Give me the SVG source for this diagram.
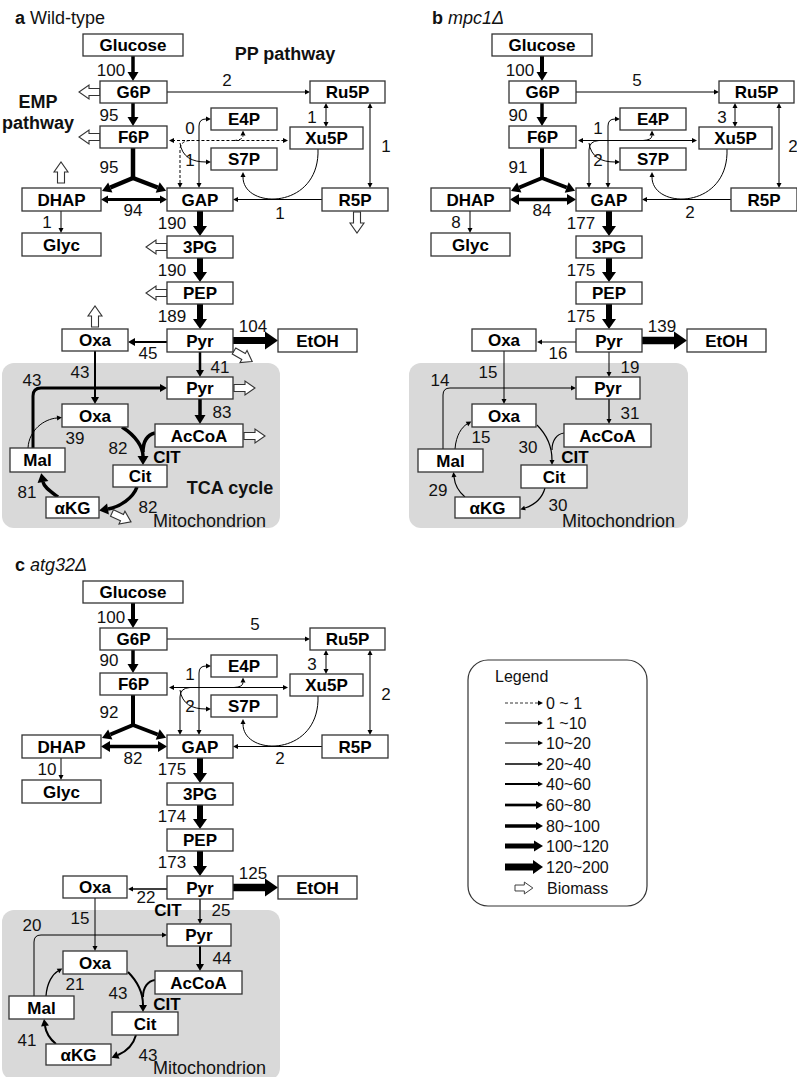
<svg xmlns="http://www.w3.org/2000/svg" xmlns:xlink="http://www.w3.org/1999/xlink" width="797" height="1077" viewBox="0 0 797 1077">
<style>
.box{fill:#fff;stroke:#333;stroke-width:1.3}
.n{font-family:"Liberation Sans",Arial,sans-serif;font-weight:bold;font-size:17px;text-anchor:middle;fill:#000}
.v{font-family:"Liberation Sans",Arial,sans-serif;font-size:17px;text-anchor:middle;fill:#111}
.t{font-family:"Liberation Sans",Arial,sans-serif;font-size:18px;fill:#111}
.b{font-weight:bold}
.c{fill:none;stroke:#000}
.d{stroke-dasharray:3 2}
.mito{fill:#d9d9d9;stroke:none}
.ha{marker-end:url(#hA)}.hb{marker-end:url(#hB)}.hc{marker-end:url(#hC)}.hd{marker-end:url(#hD)}.he{marker-end:url(#hE)}
.sa{marker-start:url(#hA)}.sb{marker-start:url(#hB)}.sc{marker-start:url(#hC)}
.lg{font-family:"Liberation Sans",Arial,sans-serif;font-size:16px;fill:#111}
</style>
<defs>
<marker id="hA" markerUnits="userSpaceOnUse" markerWidth="5" markerHeight="5" refX="0" refY="2.5" orient="auto-start-reverse" overflow="visible"><path d="M0,0 L5,2.5 L0,5 z" fill="#000"/></marker>
<marker id="hB" markerUnits="userSpaceOnUse" markerWidth="7" markerHeight="8" refX="0" refY="4" orient="auto-start-reverse" overflow="visible"><path d="M0,0 L7,4 L0,8 z" fill="#000"/></marker>
<marker id="hC" markerUnits="userSpaceOnUse" markerWidth="9" markerHeight="11" refX="0" refY="5.5" orient="auto-start-reverse" overflow="visible"><path d="M0,0 L9,5.5 L0,11 z" fill="#000"/></marker>
<marker id="hD" markerUnits="userSpaceOnUse" markerWidth="10" markerHeight="14" refX="0" refY="7" orient="auto-start-reverse" overflow="visible"><path d="M0,0 L10,7 L0,14 z" fill="#000"/></marker>
<marker id="hE" markerUnits="userSpaceOnUse" markerWidth="13" markerHeight="18" refX="0" refY="9" orient="auto-start-reverse" overflow="visible"><path d="M0,0 L13,9 L0,18 z" fill="#000"/></marker>
<path id="ba" d="M0,-3.5 H11 V-7 L21,0 L11,7 V3.5 H0 Z" fill="#fff" stroke="#333" stroke-width="1.1"/>
</defs>
<rect width="797" height="1077" fill="#fff"/>

<!-- ================= PANEL A ================= -->
<g id="panel-a">
<text class="t" x="15" y="24"><tspan class="b">a</tspan> Wild-type</text>
<text class="t b" x="38" y="108" text-anchor="middle">EMP</text>
<text class="t b" x="38" y="129" text-anchor="middle">pathway</text>
<text class="t b" x="285" y="60" text-anchor="middle">PP pathway</text>
<rect class="mito" x="2" y="363" width="278" height="165" rx="12"/>
<text class="t b" x="230" y="494" text-anchor="middle">TCA cycle</text>
<text class="t" x="153" y="527">Mitochondrion</text>
<g id="a-connectors">
<path class="c hc" stroke-width="3.5" d="M133,56 V72"/>
<path class="c hc" stroke-width="3.5" d="M133,103 V117"/>
<path class="c" stroke-width="4.5" d="M133,148 V178"/>
<path class="c hc" stroke-width="4.5" d="M133,178 L110.3,187.5"/>
<path class="c hc" stroke-width="4.5" d="M133,178 L157.7,187.5"/>
<path class="c hb sb" stroke-width="3" d="M108,199.5 H160"/>
<path class="c ha" stroke-width="1" d="M61,211 V228"/>
<path class="c hd" stroke-width="6" d="M200,211 V226"/>
<path class="c hd" stroke-width="6" d="M200,258 V272"/>
<path class="c hd" stroke-width="6" d="M200,304 V319"/>
<path class="c he" stroke-width="7" d="M233,340.5 H265"/>
<path class="c hb" stroke-width="2" d="M167,342 H135"/>
<path class="c hb" stroke-width="2" d="M95,351 V397"/>
<path class="c hb" stroke-width="2.5" d="M200,352 V370"/>
<path class="c hc" stroke-width="3.5" d="M200,399 V415"/>
<path class="c hb" stroke-width="3" d="M33,448 V396 Q33,388 41,388 H160"/>
<path class="c ha" stroke-width="1" d="M28,448 C29,430 44,419 57,418"/>
<path class="c hc" stroke-width="3.5" d="M122,427 C136,436 143,447 143,456"/>
<path class="c" stroke-width="3.5" d="M155,433 C147,435 143,442 143,452"/>
<path class="c hc" stroke-width="3.5" d="M137,487 C133,498 120,507 108,509"/>
<path class="c hc" stroke-width="3.5" d="M58,497 C50,491 44,487 43,482"/>
<path class="c ha" stroke-width="1" d="M167,92 H305"/>
<path class="c ha sa" stroke-width="1" d="M326,108 V122"/>
<path class="c ha sa" stroke-width="1" d="M370,108 V183"/>
<path class="c ha" stroke-width="1" d="M322,199.5 H238"/>
<path class="c ha" stroke-width="1" d="M318,149 C320,210 243,210 243,177"/>
<path class="c d ha sa" stroke-width="1" d="M180,183 V150 Q180,141 190,140.5 H283"/>
<path class="c d ha" stroke-width="1" d="M190,140.5 H174"/>
<path class="c d ha" stroke-width="1" d="M234,140.5 Q243,140 243,135.5"/>
<path class="c ha sa" stroke-width="1" d="M199,183 V126 Q199,119 206,119"/>
<path class="c ha" stroke-width="1" d="M180,143 C182,157 192,162 206,162"/>
<use href="#ba" transform="translate(100,92) rotate(180)"/>
<use href="#ba" transform="translate(100,137) rotate(180)"/>
<use href="#ba" transform="translate(61,183) rotate(-90)"/>
<use href="#ba" transform="translate(167,247) rotate(180)"/>
<use href="#ba" transform="translate(167,293) rotate(180)"/>
<use href="#ba" transform="translate(357,212) rotate(90)"/>
<use href="#ba" transform="translate(95,327) rotate(-90)"/>
<use href="#ba" transform="translate(234,351) rotate(30)"/>
<use href="#ba" transform="translate(234,388)"/>
<use href="#ba" transform="translate(244,436)"/>
<use href="#ba" transform="translate(112,513) rotate(25)"/>
</g>
<g id="a-labels">
<text class="v" x="111" y="76">100</text>
<text class="v" x="109" y="121">95</text>
<text class="v" x="109" y="173">95</text>
<text class="v" x="133" y="216">94</text>
<text class="v" x="47" y="228">1</text>
<text class="v" x="172" y="229">190</text>
<text class="v" x="172" y="276">190</text>
<text class="v" x="172" y="322">189</text>
<text class="v" x="253" y="332">104</text>
<text class="v" x="148" y="359">45</text>
<text class="v" x="80" y="378">43</text>
<text class="v" x="220" y="373">41</text>
<text class="v" x="222" y="418">83</text>
<text class="v" x="32" y="386">43</text>
<text class="v" x="75" y="444">39</text>
<text class="v" x="118" y="454">82</text>
<text class="v" x="148" y="513">82</text>
<text class="v" x="27" y="498">81</text>
<text class="v" x="227" y="86">2</text>
<text class="v" x="312" y="123">1</text>
<text class="v" x="386" y="152">1</text>
<text class="v" x="280" y="219">1</text>
<text class="v" x="190" y="134">0</text>
<text class="v" x="190" y="166">1</text>
<text class="n" x="167" y="463">CIT</text>
</g>
<g id="a-glucose"><rect class="box" x="83" y="34" width="100" height="22"/><text class="n" x="133" y="51">Glucose</text></g>
<g id="a-g6p"><rect class="box" x="100" y="81" width="67" height="22"/><text class="n" x="133.5" y="98">G6P</text></g>
<g id="a-f6p"><rect class="box" x="100" y="126" width="67" height="22"/><text class="n" x="133.5" y="143">F6P</text></g>
<g id="a-dhap"><rect class="box" x="22" y="188" width="79" height="23"/><text class="n" x="61.5" y="205.5">DHAP</text></g>
<g id="a-gap"><rect class="box" x="167" y="188" width="66" height="23"/><text class="n" x="200" y="205.5">GAP</text></g>
<g id="a-glyc"><rect class="box" x="22" y="233" width="79" height="23"/><text class="n" x="61.5" y="250.5">Glyc</text></g>
<g id="a-3pg"><rect class="box" x="167" y="236" width="66" height="22"/><text class="n" x="200" y="253">3PG</text></g>
<g id="a-pep"><rect class="box" x="167" y="282" width="66" height="22"/><text class="n" x="200" y="299">PEP</text></g>
<g id="a-pyr"><rect class="box" x="167" y="329" width="66" height="23"/><text class="n" x="200" y="346.5">Pyr</text></g>
<g id="a-etoh"><rect class="box" x="278" y="329" width="79" height="23"/><text class="n" x="317.5" y="346.5">EtOH</text></g>
<g id="a-oxa"><rect class="box" x="62" y="329" width="66" height="22"/><text class="n" x="95" y="346">Oxa</text></g>
<g id="a-ru5p"><rect class="box" x="310" y="81" width="75" height="22"/><text class="n" x="347.5" y="98">Ru5P</text></g>
<g id="a-e4p"><rect class="box" x="211" y="108" width="66" height="22"/><text class="n" x="244" y="125">E4P</text></g>
<g id="a-xu5p"><rect class="box" x="290" y="127" width="73" height="22"/><text class="n" x="326.5" y="144">Xu5P</text></g>
<g id="a-s7p"><rect class="box" x="211" y="148" width="66" height="22"/><text class="n" x="244" y="165">S7P</text></g>
<g id="a-r5p"><rect class="box" x="322" y="188" width="66" height="23"/><text class="n" x="355" y="205.5">R5P</text></g>
<g id="a-pyr-m"><rect class="box" x="167" y="377" width="66" height="22"/><text class="n" x="200" y="394">Pyr</text></g>
<g id="a-oxa-m"><rect class="box" x="62" y="404" width="66" height="23"/><text class="n" x="95" y="421.5">Oxa</text></g>
<g id="a-accoa"><rect class="box" x="155" y="424" width="88" height="23"/><text class="n" x="199" y="441.5">AcCoA</text></g>
<g id="a-mal"><rect class="box" x="10" y="448" width="55" height="24"/><text class="n" x="37.5" y="466">Mal</text></g>
<g id="a-cit"><rect class="box" x="113" y="465" width="54" height="22"/><text class="n" x="140" y="482">Cit</text></g>
<g id="a-akg"><rect class="box" x="46" y="497" width="53" height="21"/><text class="n" x="72.5" y="513.5">αKG</text></g>
</g>

<!-- ================= PANEL B ================= -->
<g id="panel-b" transform="translate(409,0)">
<text class="t" x="23" y="24"><tspan class="b">b</tspan> <tspan font-style="italic">mpc1Δ</tspan></text>
<rect class="mito" x="0" y="363" width="279" height="165" rx="12"/>
<text class="t" x="153" y="527">Mitochondrion</text>
<g id="b-connectors">
<path class="c hc" stroke-width="4" d="M133,56 V72"/>
<path class="c hc" stroke-width="3.5" d="M133,103 V117"/>
<path class="c" stroke-width="4" d="M133,148 V178"/>
<path class="c hc" stroke-width="4" d="M133,178 L110.3,187.5"/>
<path class="c hc" stroke-width="4" d="M133,178 L157.7,187.5"/>
<path class="c hc sc" stroke-width="3.5" d="M110,199.5 H158"/>
<path class="c ha" stroke-width="1" d="M61,211 V228"/>
<path class="c hd" stroke-width="6" d="M200,211 V226"/>
<path class="c hd" stroke-width="6" d="M200,258 V272"/>
<path class="c hd" stroke-width="6" d="M200,304 V319"/>
<path class="c he" stroke-width="7.5" d="M233,340.5 H265"/>
<path class="c ha" stroke-width="1" d="M167,342 H133"/>
<path class="c ha" stroke-width="1" d="M95,351 V399"/>
<path class="c ha" stroke-width="1" d="M200,352 V372"/>
<path class="c ha" stroke-width="1.3" d="M200,399 V419"/>
<path class="c ha" stroke-width="1" d="M34,449 V395 Q34,388 41,388 H162"/>
<path class="c ha" stroke-width="1" d="M46,449 C47,435 53,427 58,424"/>
<path class="c ha" stroke-width="1.2" d="M128,425 C138,435 143,447 143,460"/>
<path class="c" stroke-width="1.2" d="M155,433 C148,434 143,440 143,450"/>
<path class="c ha" stroke-width="1.2" d="M136,488 C133,499 125,505 116,508"/>
<path class="c ha" stroke-width="1.2" d="M56,497 C50,492 46,486 45,477"/>
<path class="c ha" stroke-width="1" d="M167,92 H305"/>
<path class="c ha sa" stroke-width="1" d="M326,108 V122"/>
<path class="c ha sa" stroke-width="1" d="M370,108 V183"/>
<path class="c ha" stroke-width="1" d="M322,199.5 H238"/>
<path class="c ha" stroke-width="1" d="M318,149 C320,210 243,210 243,177"/>
<path class="c ha sa" stroke-width="1" d="M180,183 V150 Q180,141 190,140.5 H283"/>
<path class="c ha" stroke-width="1" d="M190,140.5 H174"/>
<path class="c ha" stroke-width="1" d="M234,140.5 Q243,140 243,135.5"/>
<path class="c ha sa" stroke-width="1" d="M199,183 V126 Q199,119 206,119"/>
<path class="c ha" stroke-width="1" d="M180,143 C182,157 192,162 206,162"/>
</g>
<g id="b-labels">
<text class="v" x="111" y="76">100</text>
<text class="v" x="109" y="121">90</text>
<text class="v" x="109" y="173">91</text>
<text class="v" x="133" y="216">84</text>
<text class="v" x="47" y="228">8</text>
<text class="v" x="172" y="229">177</text>
<text class="v" x="172" y="276">175</text>
<text class="v" x="172" y="322">175</text>
<text class="v" x="253" y="332">139</text>
<text class="v" x="149" y="359">16</text>
<text class="v" x="79" y="378">15</text>
<text class="v" x="221" y="373">19</text>
<text class="v" x="221" y="419">31</text>
<text class="v" x="31" y="386">14</text>
<text class="v" x="72" y="443">15</text>
<text class="v" x="119" y="453">30</text>
<text class="v" x="149" y="511">30</text>
<text class="v" x="29" y="496">29</text>
<text class="v" x="228" y="86">5</text>
<text class="v" x="313" y="123">3</text>
<text class="v" x="384" y="152">2</text>
<text class="v" x="281" y="218">2</text>
<text class="v" x="189" y="134">1</text>
<text class="v" x="189" y="166">2</text>
<text class="n" x="166" y="463">CIT</text>
</g>
<g id="b-glucose"><rect class="box" x="83" y="34" width="100" height="22"/><text class="n" x="133" y="51">Glucose</text></g>
<g id="b-g6p"><rect class="box" x="100" y="81" width="67" height="22"/><text class="n" x="133.5" y="98">G6P</text></g>
<g id="b-f6p"><rect class="box" x="100" y="126" width="67" height="22"/><text class="n" x="133.5" y="143">F6P</text></g>
<g id="b-dhap"><rect class="box" x="22" y="188" width="79" height="23"/><text class="n" x="61.5" y="205.5">DHAP</text></g>
<g id="b-gap"><rect class="box" x="167" y="188" width="66" height="23"/><text class="n" x="200" y="205.5">GAP</text></g>
<g id="b-glyc"><rect class="box" x="22" y="233" width="79" height="23"/><text class="n" x="61.5" y="250.5">Glyc</text></g>
<g id="b-3pg"><rect class="box" x="167" y="236" width="66" height="22"/><text class="n" x="200" y="253">3PG</text></g>
<g id="b-pep"><rect class="box" x="167" y="282" width="66" height="22"/><text class="n" x="200" y="299">PEP</text></g>
<g id="b-pyr"><rect class="box" x="167" y="329" width="66" height="23"/><text class="n" x="200" y="346.5">Pyr</text></g>
<g id="b-etoh"><rect class="box" x="278" y="329" width="79" height="23"/><text class="n" x="317.5" y="346.5">EtOH</text></g>
<g id="b-oxa"><rect class="box" x="63" y="329" width="64" height="22"/><text class="n" x="95" y="346">Oxa</text></g>
<g id="b-ru5p"><rect class="box" x="310" y="81" width="75" height="22"/><text class="n" x="347.5" y="98">Ru5P</text></g>
<g id="b-e4p"><rect class="box" x="211" y="108" width="66" height="22"/><text class="n" x="244" y="125">E4P</text></g>
<g id="b-xu5p"><rect class="box" x="290" y="127" width="73" height="22"/><text class="n" x="326.5" y="144">Xu5P</text></g>
<g id="b-s7p"><rect class="box" x="211" y="148" width="66" height="22"/><text class="n" x="244" y="165">S7P</text></g>
<g id="b-r5p"><rect class="box" x="322" y="188" width="66" height="23"/><text class="n" x="355" y="205.5">R5P</text></g>
<g id="b-pyr-m"><rect class="box" x="167" y="377" width="64" height="22"/><text class="n" x="199" y="394">Pyr</text></g>
<g id="b-oxa-m"><rect class="box" x="63" y="404" width="64" height="23"/><text class="n" x="95" y="421.5">Oxa</text></g>
<g id="b-accoa"><rect class="box" x="155" y="424" width="87" height="23"/><text class="n" x="198.5" y="441.5">AcCoA</text></g>
<g id="b-mal"><rect class="box" x="9" y="449" width="65" height="23"/><text class="n" x="41.5" y="466.5">Mal</text></g>
<g id="b-cit"><rect class="box" x="112" y="465" width="66" height="23"/><text class="n" x="145" y="482.5">Cit</text></g>
<g id="b-akg"><rect class="box" x="46" y="497" width="65" height="21"/><text class="n" x="78.5" y="513.5">αKG</text></g>
</g>

<!-- ================= PANEL C ================= -->
<g id="panel-c" transform="translate(0,547)">
<text class="t" x="15" y="24"><tspan class="b">c</tspan> <tspan font-style="italic">atg32Δ</tspan></text>
<rect class="mito" x="2" y="363" width="278" height="170" rx="12"/>
<text class="t" x="153" y="527">Mitochondrion</text>
<g id="c-connectors">
<path class="c hc" stroke-width="4" d="M133,56 V72"/>
<path class="c hc" stroke-width="3.5" d="M133,103 V117"/>
<path class="c" stroke-width="4" d="M133,148 V178"/>
<path class="c hc" stroke-width="4" d="M133,178 L110.3,187.5"/>
<path class="c hc" stroke-width="4" d="M133,178 L157.7,187.5"/>
<path class="c hc sc" stroke-width="3.5" d="M110,199.5 H158"/>
<path class="c ha" stroke-width="1" d="M61,211 V228"/>
<path class="c hd" stroke-width="6" d="M200,211 V226"/>
<path class="c hd" stroke-width="6" d="M200,258 V272"/>
<path class="c hd" stroke-width="6" d="M200,304 V319"/>
<path class="c he" stroke-width="7.5" d="M233,340.5 H265"/>
<path class="c ha" stroke-width="1.3" d="M167,342 H133"/>
<path class="c ha" stroke-width="1" d="M95,351 V399"/>
<path class="c ha" stroke-width="1.3" d="M200,352 V372"/>
<path class="c hb" stroke-width="2" d="M200,399 V417"/>
<path class="c ha" stroke-width="1" d="M34,449 V395 Q34,388 41,388 H162"/>
<path class="c ha" stroke-width="1.3" d="M46,449 C47,435 53,427 58,424"/>
<path class="c hb" stroke-width="2" d="M128,425 C138,435 143,447 143,458"/>
<path class="c" stroke-width="2" d="M155,433 C148,434 143,440 143,450"/>
<path class="c hb" stroke-width="2" d="M136,488 C133,499 125,505 118,508"/>
<path class="c hb" stroke-width="2" d="M56,497 C50,492 46,486 45,479"/>
<path class="c ha" stroke-width="1" d="M167,92 H305"/>
<path class="c ha sa" stroke-width="1" d="M326,108 V122"/>
<path class="c ha sa" stroke-width="1" d="M370,108 V183"/>
<path class="c ha" stroke-width="1" d="M322,199.5 H238"/>
<path class="c ha" stroke-width="1" d="M318,149 C320,210 243,210 243,177"/>
<path class="c ha sa" stroke-width="1" d="M180,183 V150 Q180,141 190,140.5 H283"/>
<path class="c ha" stroke-width="1" d="M190,140.5 H174"/>
<path class="c ha" stroke-width="1" d="M234,140.5 Q243,140 243,135.5"/>
<path class="c ha sa" stroke-width="1" d="M199,183 V126 Q199,119 206,119"/>
<path class="c ha" stroke-width="1" d="M180,143 C182,157 192,162 206,162"/>
</g>
<g id="c-labels">
<text class="v" x="111" y="76">100</text>
<text class="v" x="109" y="119">90</text>
<text class="v" x="109" y="171">92</text>
<text class="v" x="133" y="217">82</text>
<text class="v" x="47" y="228">10</text>
<text class="v" x="172" y="228">175</text>
<text class="v" x="172" y="275">174</text>
<text class="v" x="172" y="321">173</text>
<text class="v" x="253" y="332">125</text>
<text class="v" x="146" y="356">22</text>
<text class="n" x="168" y="369">CIT</text>
<text class="v" x="80" y="377">15</text>
<text class="v" x="221" y="369">25</text>
<text class="v" x="222" y="417">44</text>
<text class="v" x="32" y="384">20</text>
<text class="v" x="75" y="443">21</text>
<text class="v" x="118" y="452">43</text>
<text class="v" x="148" y="514">43</text>
<text class="v" x="27" y="499">41</text>
<text class="v" x="255" y="83">5</text>
<text class="v" x="312" y="123">3</text>
<text class="v" x="386" y="153">2</text>
<text class="v" x="280" y="217">2</text>
<text class="v" x="190" y="133">1</text>
<text class="v" x="190" y="165">2</text>
<text class="n" x="167" y="463">CIT</text>
</g>
<g id="c-glucose"><rect class="box" x="83" y="34" width="100" height="22"/><text class="n" x="133" y="51">Glucose</text></g>
<g id="c-g6p"><rect class="box" x="100" y="81" width="67" height="22"/><text class="n" x="133.5" y="98">G6P</text></g>
<g id="c-f6p"><rect class="box" x="100" y="126" width="67" height="22"/><text class="n" x="133.5" y="143">F6P</text></g>
<g id="c-dhap"><rect class="box" x="22" y="188" width="79" height="23"/><text class="n" x="61.5" y="205.5">DHAP</text></g>
<g id="c-gap"><rect class="box" x="167" y="188" width="66" height="23"/><text class="n" x="200" y="205.5">GAP</text></g>
<g id="c-glyc"><rect class="box" x="22" y="233" width="79" height="23"/><text class="n" x="61.5" y="250.5">Glyc</text></g>
<g id="c-3pg"><rect class="box" x="167" y="236" width="66" height="22"/><text class="n" x="200" y="253">3PG</text></g>
<g id="c-pep"><rect class="box" x="167" y="282" width="66" height="22"/><text class="n" x="200" y="299">PEP</text></g>
<g id="c-pyr"><rect class="box" x="167" y="329" width="66" height="23"/><text class="n" x="200" y="346.5">Pyr</text></g>
<g id="c-etoh"><rect class="box" x="278" y="329" width="79" height="23"/><text class="n" x="317.5" y="346.5">EtOH</text></g>
<g id="c-oxa"><rect class="box" x="63" y="329" width="64" height="22"/><text class="n" x="95" y="346">Oxa</text></g>
<g id="c-ru5p"><rect class="box" x="310" y="81" width="75" height="22"/><text class="n" x="347.5" y="98">Ru5P</text></g>
<g id="c-e4p"><rect class="box" x="211" y="108" width="66" height="22"/><text class="n" x="244" y="125">E4P</text></g>
<g id="c-xu5p"><rect class="box" x="290" y="127" width="73" height="22"/><text class="n" x="326.5" y="144">Xu5P</text></g>
<g id="c-s7p"><rect class="box" x="211" y="148" width="66" height="22"/><text class="n" x="244" y="165">S7P</text></g>
<g id="c-r5p"><rect class="box" x="322" y="188" width="66" height="23"/><text class="n" x="355" y="205.5">R5P</text></g>
<g id="c-pyr-m"><rect class="box" x="167" y="377" width="64" height="22"/><text class="n" x="199" y="394">Pyr</text></g>
<g id="c-oxa-m"><rect class="box" x="63" y="404" width="64" height="23"/><text class="n" x="95" y="421.5">Oxa</text></g>
<g id="c-accoa"><rect class="box" x="155" y="424" width="87" height="23"/><text class="n" x="198.5" y="441.5">AcCoA</text></g>
<g id="c-mal"><rect class="box" x="9" y="449" width="65" height="23"/><text class="n" x="41.5" y="466.5">Mal</text></g>
<g id="c-cit"><rect class="box" x="112" y="465" width="66" height="23"/><text class="n" x="145" y="482.5">Cit</text></g>
<g id="c-akg"><rect class="box" x="46" y="497" width="65" height="21"/><text class="n" x="78.5" y="513.5">αKG</text></g>
</g>

<!-- ================= LEGEND ================= -->
<g id="legend">
<rect x="468" y="660" width="179" height="246" rx="20" fill="#fff" stroke="#333" stroke-width="1.2"/>
<text class="lg" x="495" y="682">Legend</text>
<path class="c d ha" stroke-width="0.8" d="M505,703 H538"/>
<path class="c ha" stroke-width="1" d="M505,723 H538"/>
<path class="c ha" stroke-width="1.1" d="M505,743 H538"/>
<path class="c ha" stroke-width="1.3" d="M505,764 H538"/>
<path class="c ha" stroke-width="2" d="M505,784 H538"/>
<path class="c hb" stroke-width="2.7" d="M505,805 H536"/>
<path class="c hb" stroke-width="3.5" d="M505,826 H536"/>
<path class="c hc" stroke-width="5" d="M505,846 H534"/>
<path class="c hd" stroke-width="7" d="M505,867 H533"/>
<use href="#ba" transform="translate(515,888) scale(0.85)"/>
<text class="lg" x="546" y="709">0 ~ 1</text>
<text class="lg" x="546" y="729">1 ~10</text>
<text class="lg" x="546" y="749">10~20</text>
<text class="lg" x="546" y="770">20~40</text>
<text class="lg" x="546" y="790">40~60</text>
<text class="lg" x="546" y="811">60~80</text>
<text class="lg" x="546" y="832">80~100</text>
<text class="lg" x="546" y="852">100~120</text>
<text class="lg" x="546" y="873">120~200</text>
<text class="lg" x="547" y="894">Biomass</text>
</g>
</svg>
